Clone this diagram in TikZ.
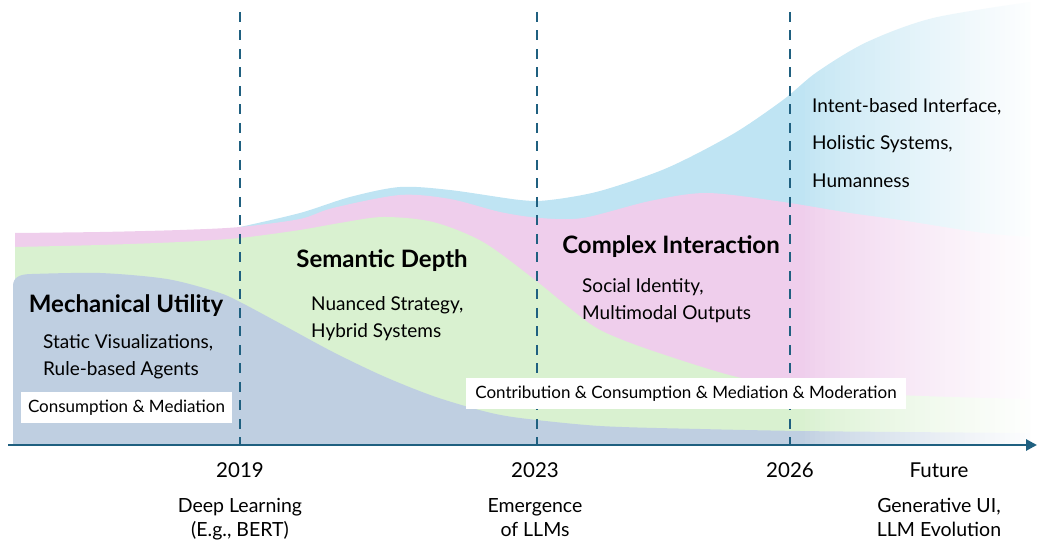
\documentclass[tikz,border=0pt]{standalone}
\usepackage{fontspec}
\setmainfont{Lato}
\usetikzlibrary{arrows.meta,positioning}
\definecolor{axisblue}{HTML}{1F6080}
\definecolor{skyband}{HTML}{BFE4F3}
\definecolor{pinkband}{HTML}{EFCEEC}
\definecolor{greenband}{HTML}{D9F1D0}
\definecolor{slateband}{HTML}{BFCFE1}

\begin{document}
\begin{tikzpicture}[x=1pt, y=-1pt, heading/.style = {font=\bfseries\fontsize{24}{26}\selectfont, anchor=base, inner sep=0}, facts/.style = {font=\fontsize{19}{27}\selectfont, align=left, anchor=north west, inner sep=0}, tag/.style = {fill=white, font=\fontsize{17}{19}\selectfont, minimum height=31pt, inner sep=0}, year/.style = {font=\fontsize{20.5}{24}\selectfont, anchor=base, inner sep=0}, era/.style = {font=\fontsize{19.5}{24}\selectfont, align=center, inner sep=0}, yearline/.style = {draw=axisblue, line width=2.8pt, dash pattern=on 10pt off 8.5pt}]
	\useasboundingbox (0,0) rectangle (1037,545);
	\fill[skyband] (240,445) -- plot[smooth] coordinates {(240,227) (300,213) (350,197) (400,187) (450,190) (520,200) (550,200) (600,191) (667,168) (733,134) (783,100) (817,72) (867,42) (933,18) (1030,2)} -- (1030,445) -- cycle;
	\fill[pinkband] (15,445) -- plot[smooth] coordinates {(15,233) (100,232) (180,230) (240,227) (300,219) (333,208) (400,195) (450,199) (500,212) (540,218) (583,218) (650,201) (707,193) (783,202) (850,213) (900,220) (983,233) (1030,237)} -- (1030,445) -- cycle;
	\fill[greenband] (15,445) -- plot[smooth] coordinates {(15,247) (100,245) (180,242) (240,238) (300,230) (340,223) (383,217) (433,222) (483,242) (535,280) (567,306) (600,330) (650,350) (733,376) (790,385) (900,395) (1030,399)} -- (1030,445) -- cycle;
	\fill[slateband] (13,445) -- (13,286) .. controls (13,277) and (20,274) .. (32,274) -- plot[smooth] coordinates {(32,274) (100,273) (167,279) (217,292) (240,302) (283,325) (333,352) (383,376) (433,396) (483,411) (520,418) (600,426) (700,429) (800,431) (900,432) (1030,433)} -- (1030,445) -- cycle;
	\foreach \i [evaluate=\i as \op using (\i/47)^0.75] in {0,...,47}
		\fill[white, opacity=\op] (800+5*\i,0) rectangle +(5,444);
	\foreach \x in {240,537,790}
		\draw[yearline] (\x,12) -- (\x,445);
	\draw[axisblue, line width=2.8pt, -{Triangle[length=11pt,width=11pt]}] (8,445) -- (1037,445);
	\node[heading] (mech) at (126,313) {Mechanical Utility};
	\node[facts] (mechfacts) at (43,334) {Static Visualizations,\\Rule-based Agents};
	\node[tag, minimum width=211pt] (mechtag) at (126.5,407.5) {Consumption \& Mediation};
	\node[heading] (sem) at (382,268) {Semantic Depth};
	\node[facts] (semfacts) at (311,296) {Nuanced Strategy,\\Hybrid Systems};
	\node[heading] (cplx) at (671,254) {Complex Interaction};
	\node[facts] (cplxfacts) at (582,278) {Social Identity,\\Multimodal Outputs};
	\node[tag, minimum width=440pt] (alltag) at (686,393.5) {Contribution \& Consumption \& Mediation \& Moderation};
	\node[facts, font=\fontsize{19}{37.5}\selectfont] (intent) at (812,98) {Intent-based Interface,\\Holistic Systems,\\Humanness};
	\node[year] (y19) at (240,478) {2019};
	\node[era, below=20pt of y19] (e19) {Deep Learning\\(E.g., BERT)};
	\node[year] (y23) at (535,478) {2023};
	\node[era, below=20pt of y23] (e23) {Emergence\\of LLMs};
	\node[year] (y26) at (790,478) {2026};
	\node[year] (yfut) at (939,478) {Future};
	\node[era, below=20pt of yfut] (efut) {Generative UI,\\LLM Evolution};
\end{tikzpicture}
\end{document}
